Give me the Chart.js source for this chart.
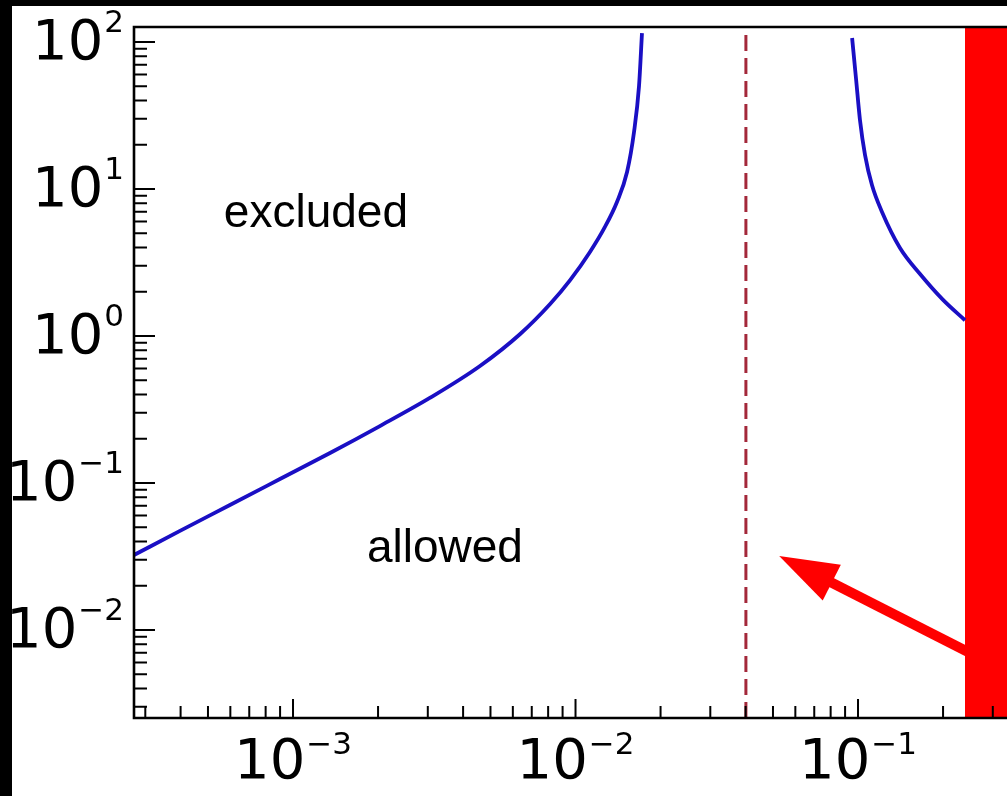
<!DOCTYPE html>
<html>
<head>
<meta charset="utf-8">
<script src="https://cdn.jsdelivr.net/npm/chart.js@4.4.1/dist/chart.umd.min.js"></script>
<style>
  html, body { margin: 0; padding: 0; background: #000; overflow: hidden; }
  #frame { position: absolute; left: 12px; top: 6px; width: 995px; height: 790px; background: #fff; }
</style>
</head>
<body>
<div id="frame"><canvas id="limitChart" width="995" height="790"></canvas></div>
<script>
// axis ranges (log scales)
var xMin = 2.736e-4, xMax = 0.3368;
var yMin = 2.52e-3, yMax = 126.5;

// tick labels, decades only: "10" with a superscript exponent
var xTickValues = [1e-3, 1e-2, 1e-1];
var xTickExps = ['−3', '−2', '−1'];
var yTickValues = [1e-2, 1e-1, 1, 10, 100];
var yTickExps = ['−2', '−1', '0', '1', '2'];

// left branch of the limit curve
var lowX = [2.736e-4, 3.98e-4, 5.98e-4, 8.99e-4, 1.352e-3, 2.03e-3, 3.05e-3, 4.59e-3, 6.37e-3, 8.13e-3, 9.57e-3, 0.01125, 0.01271, 0.01402, 0.01522, 0.01611, 0.01678, 0.01719];
var lowY = [0.0324, 0.0472, 0.0708, 0.1064, 0.160, 0.244, 0.379, 0.625, 1.032, 1.65, 2.40, 3.73, 5.52, 8.16, 13.05, 24.4, 50.2, 115];

// right branch of the limit curve
var highX = [0.0953, 0.0985, 0.1016, 0.1059, 0.1121, 0.1216, 0.1408, 0.1658, 0.2000, 0.2392];
var highY = [106.4, 55.1, 29.5, 17.0, 10.6, 6.98, 3.97, 2.64, 1.76, 1.28];

// dashed cutoff and red excluded band
var cutoffX = 0.0401;
var bandStart = 0.239;

// arrow (data coords) and region labels
var arrowTail = { x: 0.33, y: 0.0053 };
var arrowTip = { x: 0.0526, y: 0.0319 };
var regionLabels = [
  { text: 'excluded', x: 1.205e-3, y: 5.5 },
  { text: 'allowed', x: 3.45e-3, y: 0.029 }
];

function toPoints(xs, ys) {
  return xs.map(function (v, i) { return { x: v, y: ys[i] }; });
}

function isDecade(v) {
  var l = Math.log10(v);
  return Math.abs(l - Math.round(l)) < 1e-9;
}

function minorValues(min, max) {
  var out = [];
  for (var d = Math.floor(Math.log10(min)); d <= Math.ceil(Math.log10(max)); d++) {
    for (var k = 1; k <= 9; k++) {
      var v = k * Math.pow(10, d);
      if (v >= min && v <= max) out.push(v);
    }
  }
  return out;
}

var baseFont = '56px "DejaVu Sans", sans-serif';
var expFont = '31px "DejaVu Sans", sans-serif';

// inward ticks + frame, drawn above the data like matplotlib does
var frameTicks = {
  id: 'frameTicks',
  afterDatasetsDraw: function (chart) {
    var ctx = chart.ctx, a = chart.chartArea, x = chart.scales.x, y = chart.scales.y;
    ctx.save();
    ctx.strokeStyle = '#000';
    ctx.lineWidth = 2;
    ctx.beginPath();
    minorValues(xMin, xMax).forEach(function (v) {
      var px = x.getPixelForValue(v);
      var len = isDecade(v) ? 19 : 12;
      ctx.moveTo(px, a.bottom);
      ctx.lineTo(px, a.bottom - len);
    });
    minorValues(yMin, yMax).forEach(function (v) {
      var py = y.getPixelForValue(v);
      var len = isDecade(v) ? 21 : 13;
      ctx.moveTo(a.left, py);
      ctx.lineTo(a.left + len, py);
    });
    ctx.stroke();
    ctx.lineWidth = 2.6;
    ctx.beginPath();
    ctx.moveTo(a.right, a.top);
    ctx.lineTo(a.left, a.top);
    ctx.lineTo(a.left, a.bottom);
    ctx.lineTo(a.right, a.bottom);
    ctx.stroke();

    // tick labels
    ctx.fillStyle = '#000';
    ctx.textBaseline = 'alphabetic';
    ctx.textAlign = 'left';
    function label(base, exp, left, baseline, lift) {
      ctx.font = baseFont;
      var bw = ctx.measureText(base).width;
      ctx.fillText(base, left, baseline);
      ctx.font = expFont;
      ctx.fillText(exp, left + bw + 1, baseline - lift);
    }
    function width(base, exp) {
      ctx.font = baseFont;
      var bw = ctx.measureText(base).width;
      ctx.font = expFont;
      return bw + 1 + ctx.measureText(exp).width;
    }
    xTickValues.forEach(function (v, i) {
      var w = width('10', xTickExps[i]);
      label('10', xTickExps[i], x.getPixelForValue(v) - w / 2, a.bottom + 60, 24);
    });
    yTickValues.forEach(function (v, i) {
      var w = width('10', yTickExps[i]);
      label('10', yTickExps[i], a.left - 10 - w, y.getPixelForValue(v) + 17, 27);
    });
    ctx.restore();
  }
};

var notes = {
  id: 'notes',
  afterDatasetsDraw: function (chart) {
    var ctx = chart.ctx, x = chart.scales.x, y = chart.scales.y;
    ctx.save();
    // arrow
    var tx = x.getPixelForValue(arrowTip.x), ty = y.getPixelForValue(arrowTip.y);
    var sx = x.getPixelForValue(arrowTail.x), sy = y.getPixelForValue(arrowTail.y);
    var ang = Math.atan2(ty - sy, tx - sx);
    var headLen = 59, headHalf = 20;
    var bx = tx - headLen * Math.cos(ang), by = ty - headLen * Math.sin(ang);
    ctx.strokeStyle = '#ff0000';
    ctx.fillStyle = '#ff0000';
    ctx.lineWidth = 10;
    ctx.beginPath();
    ctx.moveTo(sx, sy);
    ctx.lineTo(bx + 6 * Math.cos(ang), by + 6 * Math.sin(ang));
    ctx.stroke();
    ctx.beginPath();
    ctx.moveTo(tx, ty);
    ctx.lineTo(bx + headHalf * Math.sin(ang), by - headHalf * Math.cos(ang));
    ctx.lineTo(bx - headHalf * Math.sin(ang), by + headHalf * Math.cos(ang));
    ctx.closePath();
    ctx.fill();
    // region text
    ctx.fillStyle = '#000';
    ctx.font = '46px "Liberation Sans", Arial, sans-serif';
    ctx.textAlign = 'center';
    ctx.textBaseline = 'alphabetic';
    regionLabels.forEach(function (l) {
      ctx.fillText(l.text, x.getPixelForValue(l.x), y.getPixelForValue(l.y));
    });
    ctx.restore();
  }
};

var ctx = document.getElementById('limitChart').getContext('2d');
var chart = new Chart(ctx, {
  type: 'line',
  data: {
    datasets: [
      {
        label: 'low',
        data: toPoints(lowX, lowY),
        borderColor: '#1a0fc4',
        borderWidth: 3.8,
        pointRadius: 0,
        cubicInterpolationMode: 'monotone',
        fill: false,
        order: 1
      },
      {
        label: 'high',
        data: toPoints(highX, highY),
        borderColor: '#1a0fc4',
        borderWidth: 3.8,
        pointRadius: 0,
        cubicInterpolationMode: 'monotone',
        fill: false,
        order: 1
      },
      {
        label: 'cutoff',
        data: [{ x: cutoffX, y: yMin }, { x: cutoffX, y: yMax }],
        borderColor: '#a3283a',
        borderWidth: 3,
        borderDash: [16, 7],
        pointRadius: 0,
        fill: false,
        order: 2
      },
      {
        label: 'band',
        data: [{ x: bandStart, y: yMax }, { x: xMax, y: yMax }],
        borderWidth: 0,
        borderColor: '#ff0000',
        backgroundColor: '#ff0000',
        pointRadius: 0,
        fill: 'start',
        order: 3
      }
    ]
  },
  options: {
    responsive: false,
    animation: false,
    devicePixelRatio: 1,
    layout: { padding: { top: 21, left: 0, right: 0, bottom: 0 } },
    plugins: { legend: { display: false }, tooltip: { enabled: false } },
    scales: {
      x: {
        type: 'logarithmic',
        min: xMin,
        max: xMax,
        border: { display: false },
        grid: { display: false, drawTicks: false },
        ticks: { display: false },
        afterBuildTicks: function (s) { s.ticks = xTickValues.map(function (v) { return { value: v }; }); },
        afterFit: function (s) { s.height = 78; s.paddingLeft = 0; s.paddingRight = 0; }
      },
      y: {
        type: 'logarithmic',
        min: yMin,
        max: yMax,
        border: { display: false },
        grid: { display: false, drawTicks: false },
        ticks: { display: false },
        afterBuildTicks: function (s) { s.ticks = yTickValues.map(function (v) { return { value: v }; }); },
        afterFit: function (s) { s.width = 122; s.paddingTop = 0; s.paddingBottom = 0; }
      }
    }
  },
  plugins: [frameTicks, notes]
});
</script>
</body>
</html>
